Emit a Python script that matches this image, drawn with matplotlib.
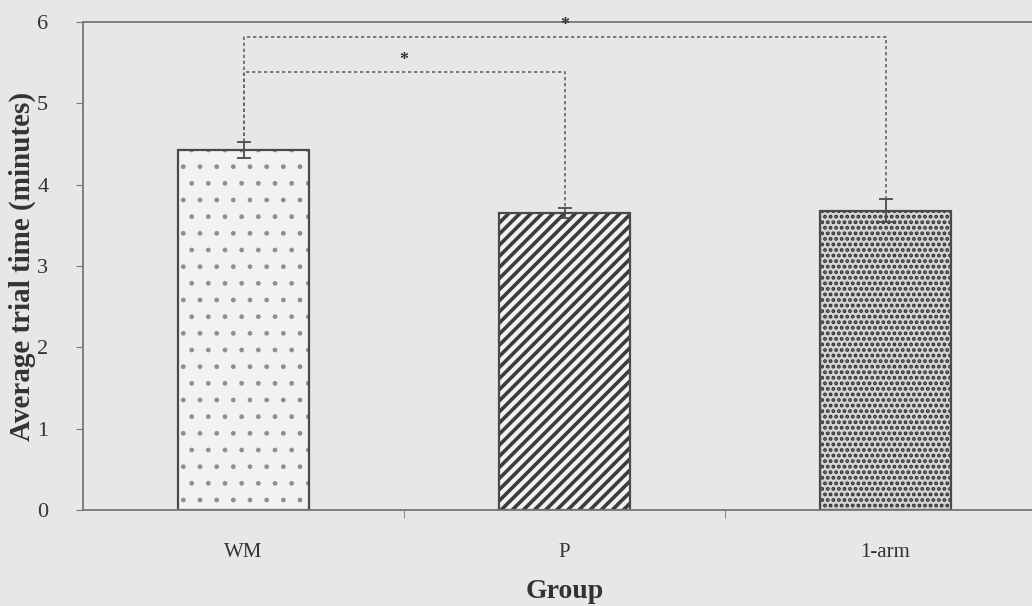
import matplotlib.pyplot as plt
import numpy as np

plt.rcParams['font.family'] = ['Liberation Serif', 'DejaVu Serif']

# data
groups = ['WM', 'P', '1-arm']
means = [4.43, 3.65, 3.68]
errs = [0.10, 0.06, 0.14]
hatches = ['.', '///', '...']
hatch_cols = ['#8f8f8f', '#3c3c3c', '#2e2e2e']
hatch_lws = [1.0, 2.6, 1.9]
faces = ['#f2f2f2', '#f2f2f2', '#d4d4d4']
# significance brackets: (left group, right group, bracket height)
brackets = [(0, 1, 5.39), (0, 2, 5.82)]

bg = '#e7e7e7'
ink = '#4a4a4a'
txt = '#333333'

fig = plt.figure(figsize=(10.32, 6.06), dpi=100, facecolor=bg)
ax = fig.add_axes([83/1032, 96/606, 963/1032, 488/606], facecolor=bg)

x = np.arange(len(groups))
for xi, m, h, hc, hl, fc in zip(x, means, hatches, hatch_cols, hatch_lws, faces):
    plt.rcParams['hatch.linewidth'] = hl
    b = ax.bar(xi, m, width=0.405, color=fc, edgecolor=hc, hatch=h, linewidth=0, zorder=2)
    for p in b:
        if hasattr(p, 'set_hatch_linewidth'):
            p.set_hatch_linewidth(hl)
    ax.bar(xi, m, width=0.405, color='none', edgecolor=ink, linewidth=1.6, zorder=2.5)
ax.errorbar(x, means, yerr=errs, fmt='none', ecolor=ink, elinewidth=1.3, capsize=5, capthick=1.3, zorder=3)

# dotted significance lines
tops = [m + e for m, e in zip(means, errs)]
for a, b2, yb in brackets:
    ax.plot([a, a, b2, b2], [tops[a], yb, yb, tops[b2]], color='#666666', lw=1.2,
            linestyle=(0, (2, 1.6)), zorder=4)
    ax.text((a + b2) / 2, yb + 0.03, '*', ha='center', va='bottom', fontsize=13,
            color=txt, fontweight='bold')

ax.set_xlim(-0.5, 2.5)
ax.set_ylim(0, 6)
ax.set_yticks(range(0, 7))
ax.set_xticks(x)
ax.set_xticklabels(groups)
ax.set_xticks([0.5, 1.5], minor=True)
ax.tick_params(axis='x', which='major', length=0, pad=24, labelsize=15, labelcolor=txt)
ax.tick_params(axis='x', which='minor', length=6, color='#777777', direction='out')
ax.tick_params(axis='y', length=5, color='#777777', direction='out', pad=20, labelsize=16, labelcolor=txt)

for s in ['left', 'bottom', 'top']:
    ax.spines[s].set_color('#777777')
    ax.spines[s].set_linewidth(1.3)
ax.spines['right'].set_visible(False)

ax.set_ylabel('Average trial time (minutes)', fontsize=21, fontweight='bold', color=txt)
ax.yaxis.label.set_verticalalignment('center')
ax.yaxis.set_label_coords(-0.063, 0.5)
ax.set_xlabel('Group', fontsize=20, fontweight='bold', color=txt, labelpad=12)

fig.savefig('out.png', dpi=100, facecolor=bg)
